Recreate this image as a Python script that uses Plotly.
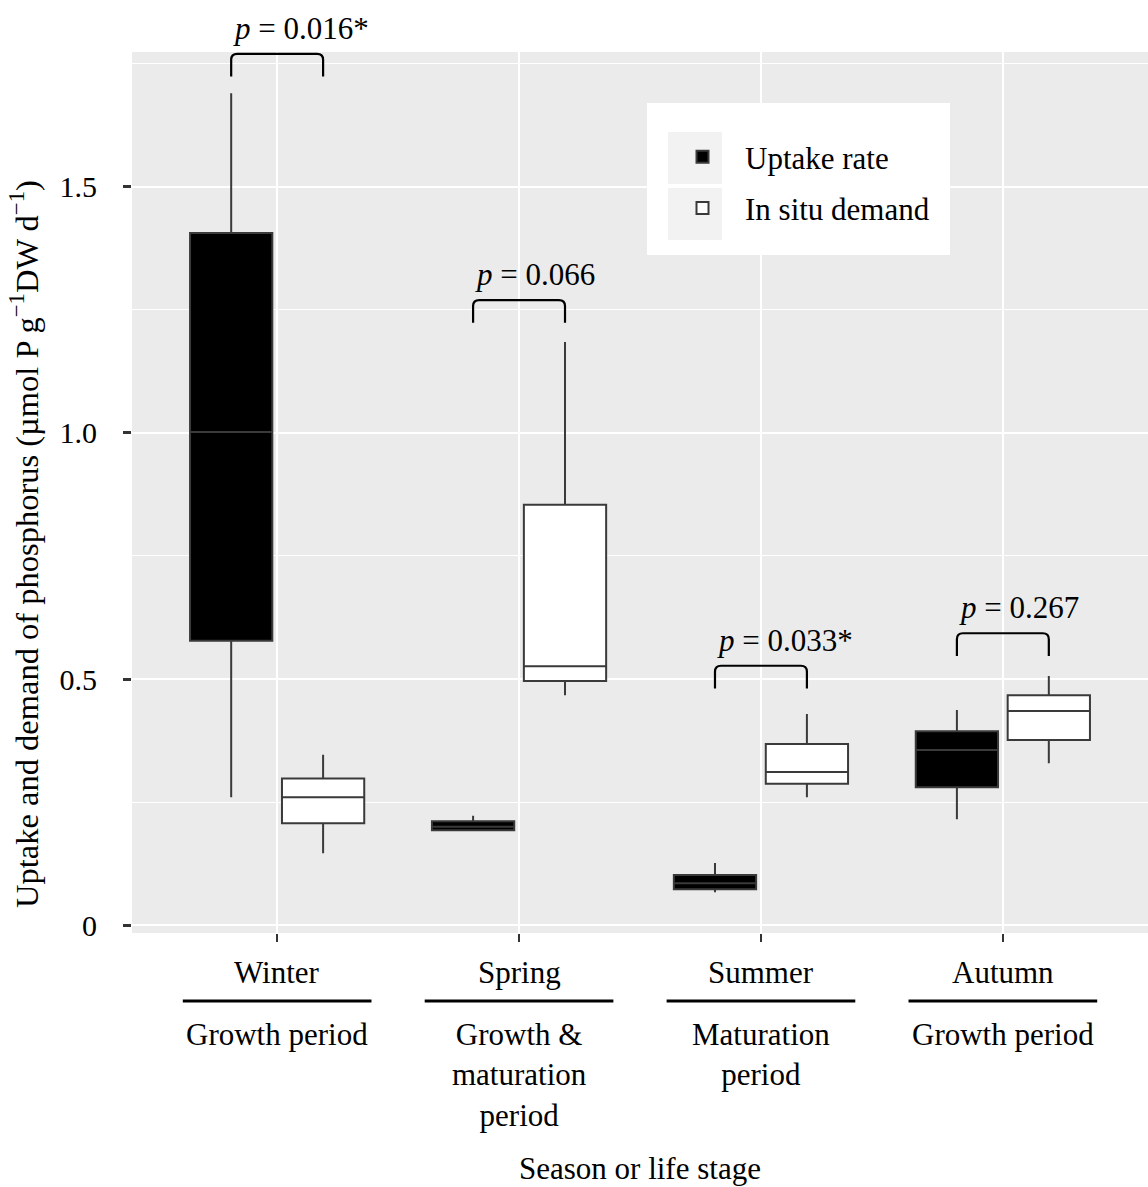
import plotly.graph_objects as go

# ---- data (µmol P g-1 DW d-1) ----
seasons = ["Winter", "Spring", "Summer", "Autumn"]
stages = ["Growth period", "Growth &<br>maturation<br>period", "Maturation<br>period", "Growth period"]
positions = [1, 2, 3, 4]

uptake_low = [0.260, 0.193, 0.067, 0.215]
uptake_q1 = [0.578, 0.193, 0.073, 0.280]
uptake_med = [1.002, 0.200, 0.085, 0.356]
uptake_q3 = [1.406, 0.211, 0.102, 0.394]
uptake_high = [1.690, 0.222, 0.126, 0.437]

demand_low = [0.146, 0.467, 0.260, 0.329]
demand_q1 = [0.207, 0.496, 0.287, 0.376]
demand_med = [0.260, 0.526, 0.311, 0.435]
demand_q3 = [0.298, 0.854, 0.368, 0.467]
demand_high = [0.346, 1.185, 0.429, 0.506]

p_labels = ["<i>p</i> = 0.016*", "<i>p</i> = 0.066", "<i>p</i> = 0.033*", "<i>p</i> = 0.267"]
bracket_top = [1.770, 1.270, 0.527, 0.593]

y_ticks = [0, 0.5, 1.0, 1.5]
y_ticktext = ["0", "0.5", "1.0", "1.5"]
y_minor = [0.25, 0.75, 1.25, 1.75]

# ---- layout constants ----
W, H = 1148, 1187
M_L, M_R, M_T, M_B = 132, 0, 52, 254
PANEL_W = W - M_L - M_R
PANEL_H = H - M_T - M_B
PANEL_BOTTOM = H - M_B
FONT = "Liberation Serif"
DODGE = 0.19          # half distance between paired boxes
LEG_DROP = 0.046      # bracket leg length (data units)
BOX_LINE = "#3a3a3a"


def paper_y(px):
    return (PANEL_BOTTOM - px) / PANEL_H


def paper_x(px):
    return (px - M_L) / PANEL_W


fig = go.Figure()

fig.add_trace(go.Box(
    name="Uptake rate", x=positions,
    q1=uptake_q1, median=uptake_med, q3=uptake_q3,
    lowerfence=uptake_low, upperfence=uptake_high,
    fillcolor="black", line=dict(color=BOX_LINE, width=2),
    whiskerwidth=0, boxpoints=False, legendgroup="u",
))
fig.add_trace(go.Box(
    name="In situ demand", x=positions,
    q1=demand_q1, median=demand_med, q3=demand_q3,
    lowerfence=demand_low, upperfence=demand_high,
    fillcolor="white", line=dict(color=BOX_LINE, width=2),
    whiskerwidth=0, boxpoints=False, legendgroup="d",
))

shapes = []
annotations = []

# legend panel: white card with light-grey key backgrounds
shapes.append(dict(type="rect", xref="paper", yref="paper",
                   x0=paper_x(647), x1=paper_x(950), y0=paper_y(255), y1=paper_y(103),
                   fillcolor="white", line=dict(width=0), layer="above"))
for top_px, bot_px in [(132, 184), (188, 240)]:
    shapes.append(dict(type="rect", xref="paper", yref="paper",
                       x0=paper_x(668), x1=paper_x(722), y0=paper_y(bot_px), y1=paper_y(top_px),
                       fillcolor="#F2F2F2", line=dict(width=0), layer="above"))

# significance brackets with p-values
for xc, top, lab in zip(positions, bracket_top, p_labels):
    x1, x2 = xc - DODGE, xc + DODGE
    rx, ry = 0.025, 0.012
    low = top - LEG_DROP
    path = (f"M {x1},{low} L {x1},{top - ry} Q {x1},{top} {x1 + rx},{top} "
            f"L {x2 - rx},{top} Q {x2},{top} {x2},{top - ry} L {x2},{low}")
    shapes.append(dict(type="path", path=path, xref="x", yref="y",
                       line=dict(color="black", width=2.2)))
    annotations.append(dict(x=x1, y=top, xref="x", yref="y", text=lab,
                            showarrow=False, xanchor="left", yanchor="bottom",
                            yshift=6, font=dict(family=FONT, size=31, color="black")))

# two-level category labels
for xc, s, st in zip(positions, seasons, stages):
    annotations.append(dict(x=xc, y=paper_y(972), xref="x", yref="paper", text=s,
                            showarrow=False, xanchor="center", yanchor="middle",
                            font=dict(family=FONT, size=31, color="black")))
    shapes.append(dict(type="line", x0=xc - 0.39, x1=xc + 0.39,
                       y0=paper_y(1001), y1=paper_y(1001), xref="x", yref="paper",
                       line=dict(color="black", width=3)))
    annotations.append(dict(x=xc, y=paper_y(1015), xref="x", yref="paper", text=st,
                            showarrow=False, xanchor="center", yanchor="top",
                            font=dict(family=FONT, size=31, color="black")))

annotations.append(dict(x=0.5, y=paper_y(1168), xref="paper", yref="paper",
                        text="Season or life stage", showarrow=False,
                        xanchor="center", yanchor="middle",
                        font=dict(family=FONT, size=31, color="black")))
annotations.append(dict(x=paper_x(24), y=paper_y(544),
                        xref="paper", yref="paper", textangle=-90,
                        text="Uptake and demand of phosphorus (µmol P g<sup>−1</sup>DW d<sup>−1</sup>)",
                        showarrow=False, xanchor="center", yanchor="middle",
                        font=dict(family=FONT, size=32.5, color="black")))

fig.update_layout(
    width=W, height=H,
    margin=dict(l=M_L, r=M_R, t=M_T, b=M_B, autoexpand=False),
    paper_bgcolor="white", plot_bgcolor="#EBEBEB",
    boxmode="group", boxgap=0.24, boxgroupgap=0.105,
    font=dict(family=FONT, size=31, color="black"),
    shapes=shapes, annotations=annotations,
    legend=dict(x=paper_x(660), y=paper_y(130),
                xanchor="left", yanchor="top", bgcolor="rgba(0,0,0,0)",
                font=dict(family=FONT, size=31, color="black"),
                tracegroupgap=8, itemwidth=75),
    showlegend=True,
)

fig.update_xaxes(
    range=[0.4, 4.6], tickvals=positions, showticklabels=False,
    ticks="outside", ticklen=8, tickwidth=1.5, tickcolor="#333333",
    showgrid=True, gridcolor="white", gridwidth=2.2, zeroline=False,
    showline=False, fixedrange=True,
)
fig.update_yaxes(
    range=[-0.016, 1.774], tickvals=y_ticks, ticktext=y_ticktext,
    ticks="outside", ticklen=8, tickwidth=2.5, tickcolor="#333333",
    ticklabelstandoff=20,
    tickfont=dict(family=FONT, size=30, color="black"),
    showgrid=True, gridcolor="white", gridwidth=2.2, zeroline=False,
    minor=dict(tickvals=y_minor, showgrid=True, gridcolor="white", gridwidth=1.1, ticks=""),
    showline=False, fixedrange=True,
)

fig.write_html("out.html")
